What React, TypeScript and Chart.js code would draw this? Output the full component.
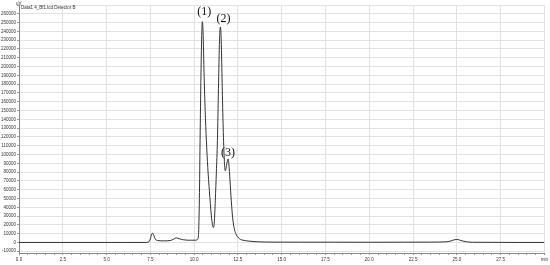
import React, { useEffect, useRef } from "react";
import { Chart, registerables } from "chart.js";

Chart.register(...registerables);

// retention time (min)
const times = [
  0, 2, 4, 6, 7.2, 7.4, 7.5, 7.58, 7.63, 7.7, 7.78, 7.9, 8.3, 8.7, 8.9, 9.0, 9.15, 9.4, 9.8, 10.1,
  10.2, 10.25, 10.3, 10.34, 10.39, 10.44, 10.47, 10.51, 10.57, 10.63, 10.7, 10.78, 10.87, 10.98,
  11.05, 11.1, 11.15, 11.21, 11.27, 11.33, 11.39, 11.45, 11.5, 11.55, 11.6, 11.66, 11.72, 11.78,
  11.84, 11.9, 11.94, 11.98, 12.05, 12.12, 12.2, 12.29, 12.38, 12.46, 12.6, 12.7, 13.15, 13.7,
  14.5, 16, 18, 20, 22, 23.5, 24.4, 24.7, 24.85, 25.0, 25.15, 25.3, 25.6, 25.9, 27, 28.5, 30,
];
// detector signal (uV)
const signal = [
  0, 0, 0, 0, 0, 500, 4000, 9500, 10500, 8000, 4000, 2200, 1800, 2500, 4500, 5200, 4200, 3000, 2500, 2600,
  3500, 9000, 50000, 116000, 190000, 240000, 251000, 240000, 190000, 150000, 116000, 85000, 59000, 31000,
  20000, 17000, 22000, 48000, 80000, 116000, 175000, 230000, 245000, 228000, 180000, 130000, 95000, 81500,
  86000, 93000, 95000, 90000, 70000, 48000, 28000, 16000, 10000, 7000, 4000, 3000, 1500, 700,
  400, 300, 300, 200, 300, 400, 700, 2000, 3000, 3400, 2800, 1800, 600, 200, 100, 0, 0,
];

const peakLabels = ["(1)", "(2)", "(3)"];
const peakTimes = [10.47, 11.5, 11.94];
const peakValues = [251000, 245000, 95000];

const xMin = 0;
const xMax = 30;
const yMin = -12000;
const yMax = 270000;

export default function App() {
  const ref = useRef<HTMLCanvasElement | null>(null);
  useEffect(() => {
    if (!ref.current) return;
    const labelPlugin = {
      id: "peakLabels",
      afterDatasetsDraw(chart: any) {
        const { ctx, scales, chartArea } = chart;
        ctx.save();
        ctx.fillStyle = "#111";
        ctx.font = "12px 'Liberation Serif'";
        ctx.textAlign = "center";
        ctx.textBaseline = "middle";
        const dx = [2, 3, 0];
        const dy = [10, 8, 6];
        peakLabels.forEach((l, i) => {
          const x = scales.x.getPixelForValue(peakTimes[i]) + dx[i];
          const y = scales.y.getPixelForValue(peakValues[i]) - dy[i];
          ctx.fillText(l, x, y);
        });
        ctx.font = "4.5px 'Liberation Sans'";
        ctx.fillStyle = "#333";
        ctx.textAlign = "left";
        ctx.textBaseline = "top";
        ctx.fillText("Data1 4_Bf1.lcd Detector B", chartArea.left + 2, chartArea.top + 1);
        ctx.textBaseline = "bottom";
        ctx.fillText("uV", chartArea.left - 3, chartArea.top + 1);
        ctx.restore();
      },
    };
    const chart = new Chart(ref.current, {
      type: "scatter",
      data: {
        datasets: [
          {
            data: times.map((t, i) => ({ x: t, y: signal[i] })),
            showLine: true,
            borderColor: "#333",
            borderWidth: 1,
            pointRadius: 0,
            cubicInterpolationMode: "monotone",
            fill: false,
          },
        ],
      },
      options: {
        animation: false,
        responsive: false,
        layout: { padding: { top: 5, right: 4, left: 0, bottom: 0 } },
        plugins: { legend: { display: false }, tooltip: { enabled: false } },
        scales: {
          x: {
            type: "linear",
            min: xMin,
            max: xMax,
            afterBuildTicks: (scale: any) => {
              const t = [];
              for (let i = 0; i <= 60; i++) t.push({ value: i * 0.5 });
              scale.ticks = t;
            },
            afterFit: (scale: any) => {
              scale.height = 12;
            },
            ticks: {
              autoSkip: false,
              maxRotation: 0,
              padding: 2,
              font: { size: 4.5, family: "Liberation Sans" },
              color: "#333",
              callback: (v: any) => {
                const n = Number(v);
                if (Math.abs(n / 2.5 - Math.round(n / 2.5)) > 1e-6) return "";
                return n === 30 ? "min" : n.toFixed(1);
              },
            },
            grid: {
              color: (c: any) => {
                const n = c.tick ? c.tick.value : 0;
                return Math.abs(n / 2.5 - Math.round(n / 2.5)) < 1e-6 ? "#e2e2e2" : "rgba(0,0,0,0)";
              },
              tickColor: "#999",
              tickLength: 2,
              lineWidth: 1,
            },
            border: { color: "#888" },
          },
          y: {
            min: yMin,
            max: yMax,
            afterBuildTicks: (scale: any) => {
              const t = [];
              for (let v = -10000; v <= 270000; v += 10000) t.push({ value: v });
              scale.ticks = t;
            },
            afterFit: (scale: any) => {
              scale.width = 19;
            },
            ticks: {
              autoSkip: false,
              padding: 1,
              font: { size: 4.5, family: "Liberation Sans" },
              color: "#333",
              callback: (v: any) => (Number(v) === 270000 ? "" : String(v)),
            },
            grid: { color: "#e2e2e2", tickColor: "#999", tickLength: 2, lineWidth: 1 },
            border: { color: "#888" },
          },
        },
      },
      plugins: [labelPlugin],
    });
    return () => chart.destroy();
  }, []);
  return (
    <div style={{ position: "fixed", left: 0, top: 0, width: 550, height: 265, background: "#fff" }}>
      <canvas ref={ref} width={550} height={265} style={{ width: 550, height: 265 }} />
    </div>
  );
}
